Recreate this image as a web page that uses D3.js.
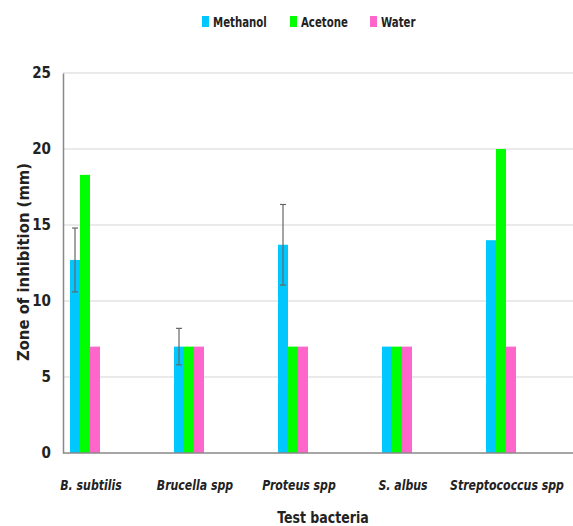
<!DOCTYPE html>
<html>
<head>
<meta charset="utf-8">
<script src="https://cdn.jsdelivr.net/npm/d3@7"></script>
<style>
  body { margin: 0; background: #fff; }
  text { font-family: "DejaVu Sans Condensed", "Liberation Sans", sans-serif; font-weight: bold; fill: #222; }
</style>
</head>
<body>
<script>
// Chart data
const bacteria = ["B. subtilis", "Brucella spp", "Proteus spp", "S. albus", "Streptococcus spp"];
const solvents = ["Methanol", "Acetone", "Water"];
const methanol = [12.7, 7, 13.7, 7, 14];
const acetone = [18.3, 7, 7, 7, 20];
const water = [7, 7, 7, 7, 7];
const methanolErr = [2.1, 1.2, 2.65, 0, 0];
const yTicks = [0, 5, 10, 15, 20, 25];
const colors = ["#00c8ff", "#00ff00", "#ff66cc"];

const w = 573, h = 526;
const margins = {top: 73, left: 63, right: 0, bottom: 73};

let svg = d3.select("body").append("svg")
    .attr("width", w)
    .attr("height", h);

// scales
let x = d3.scaleBand()
    .domain(bacteria)
    .range([39, 559]);
let y = d3.scaleLinear()
    .domain([0, 25])
    .range([453, 73]);
let x1 = d3.scaleBand()
    .domain(solvents)
    .range([0, 30]);
let color = d3.scaleOrdinal().domain(solvents).range(colors);

// gridlines
svg.append("g")
    .selectAll("line")
    .data(yTicks.filter(d => d > 0))
    .join("line")
        .attr("x1", margins.left)
        .attr("x2", w)
        .attr("y1", d => y(d))
        .attr("y2", d => y(d))
        .attr("stroke", "#e3e3e3")
        .attr("stroke-width", 1.5);

// y axis
let yAxis = svg.append("g")
    .attr("transform", "translate(" + margins.left + ",0)")
    .call(d3.axisLeft(y).tickValues(yTicks).tickSize(0).tickPadding(12));
yAxis.select(".domain").attr("stroke", "#888").attr("stroke-width", 1.5);
yAxis.selectAll("text")
    .style("font-size", "15px")
    .style("font-family", "'DejaVu Sans Condensed', sans-serif")
    .style("font-weight", "bold")
    .attr("fill", "#222");

// bars
let rows = bacteria.map((b, i) => ({name: b, values: [methanol[i], acetone[i], water[i]], err: methanolErr[i]}));

let groups = svg.append("g")
    .selectAll("g")
    .data(rows)
    .join("g")
        .attr("transform", d => "translate(" + (x(d.name) + x.bandwidth() / 2 - 21) + ",0)");

groups.selectAll("rect")
    .data(d => d.values.map((v, j) => ({key: solvents[j], value: v})))
    .join("rect")
        .attr("x", d => x1(d.key))
        .attr("width", x1.bandwidth())
        .attr("y", d => y(d.value))
        .attr("height", d => y(0) - y(d.value))
        .attr("fill", d => color(d.key));

// error bars on methanol
let eb = groups.filter(d => d.err > 0).append("g")
    .attr("stroke", "#666")
    .attr("stroke-width", 1.2);
let cx = x1("Methanol") + x1.bandwidth() / 2;
eb.append("line")
    .attr("x1", cx).attr("x2", cx)
    .attr("y1", d => y(d.values[0] + d.err))
    .attr("y2", d => y(d.values[0] - d.err));
eb.append("line")
    .attr("x1", cx - 3).attr("x2", cx + 3)
    .attr("y1", d => y(d.values[0] + d.err))
    .attr("y2", d => y(d.values[0] + d.err));
eb.append("line")
    .attr("x1", cx - 3).attr("x2", cx + 3)
    .attr("y1", d => y(d.values[0] - d.err))
    .attr("y2", d => y(d.values[0] - d.err));

// x axis line
svg.append("line")
    .attr("x1", margins.left)
    .attr("x2", w)
    .attr("y1", y(0))
    .attr("y2", y(0))
    .attr("stroke", "#888")
    .attr("stroke-width", 1.5);

// x labels (narrow, like the original condensed font)
svg.append("g")
    .selectAll("text")
    .data(bacteria)
    .join("text")
        .attr("transform", d => "translate(" + (x(d) + x.bandwidth() / 2) + ",490) scale(0.84,1)")
        .attr("text-anchor", "middle")
        .style("font-size", "14.5px")
        .style("font-style", "italic")
        .text(d => d);

// axis titles
svg.append("text")
    .attr("transform", "translate(323,523) scale(0.9,1)")
    .attr("text-anchor", "middle")
    .style("font-size", "15.5px")
    .text("Test bacteria");

svg.append("text")
    .attr("transform", "translate(29,262) rotate(-90)")
    .attr("text-anchor", "middle")
    .style("font-size", "16.5px")
    .text("Zone of inhibition (mm)");

// legend
let legendX = [202, 290, 370];
let legend = svg.append("g")
    .selectAll("g")
    .data(solvents)
    .join("g")
        .attr("transform", (d, i) => "translate(" + legendX[i] + ",16)");
legend.append("rect")
    .attr("width", 7)
    .attr("height", 11)
    .attr("fill", d => color(d));
legend.append("text")
    .attr("transform", "translate(11,11) scale(0.78,1)")
    .style("font-size", "14.5px")
    .text(d => d);
</script>
</body>
</html>
